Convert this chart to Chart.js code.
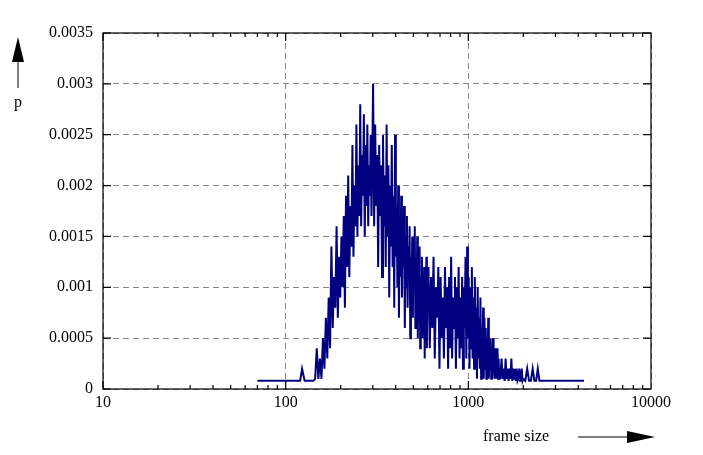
<!DOCTYPE html>
<html><head><meta charset="utf-8">
<script src="https://cdn.jsdelivr.net/npm/chart.js@4/dist/chart.umd.min.js"></script>
<style>html,body{margin:0;padding:0;background:#fff}#w{width:703px;height:455px}</style>
</head><body><div id="w"><canvas id="c"></canvas></div>
<script>
const frameSizes=[70,120,123,127,142,
145,148,151,154,157,160,163,166,169,172,175,178,181,184,187,190,193,196,199,202,205,208,211,214,217,220,223,226,229,232,235,238,241,244,247,250,253,256,259,262,265,268,271,274,277,280,283,286,289,292,295,298,
301,305,309,313,317,321,325,329,333,337,341,345,349,353,357,361,365,369,373,377,381,385,389,393,397,401,405,409,413,417,421,425,429,433,437,441,445,449,453,457,461,465,469,473,477,481,485,489,493,497,501,505,509,513,517,521,525,529,533,537,541,545,549,553,557,561,565,569,573,577,581,585,589,593,597,
605,615,625,635,645,655,665,675,685,695,705,715,725,735,745,755,765,775,785,795,805,815,825,835,845,855,865,875,885,895,905,915,925,935,945,955,965,975,985,995,1005,1015,1025,1035,1045,1055,1065,1075,1085,1095,1105,1115,1125,1135,1145,1155,1165,1175,1185,1195,1205,1215,1225,1235,1245,1255,1265,1275,1285,1295,1305,1315,1325,1335,1345,1355,1365,1375,1385,1395,1405,1415,1425,1435,1445,1455,1465,1475,1485,1495,
1520,1540,1560,1580,1600,1620,1640,1660,1680,1700,1720,1740,1760,1780,1800,1820,1840,1860,1880,1900,1920,1940,1960,1980,2000,2050,2100,2150,2200,2250,2300,2350,2400,2450,2500,4300];
const probability=[0.00008,0.00008,0.0002,0.00008,0.00008,
0.0001,0.0004,0.0001,0.0003,0.0001,0.0005,0.0002,0.0007,0.0003,0.0009,0.0004,0.0014,0.0006,0.0011,0.0008,0.0016,0.0007,0.0013,0.0009,0.0015,0.0010,0.0017,0.0008,0.0019,0.0012,0.0021,0.0011,0.0018,0.0014,0.0024,0.0013,0.0020,0.0016,0.0026,0.0015,0.0022,0.0017,0.0028,0.0016,0.0023,0.0019,0.0027,0.0015,0.0024,0.0018,0.0026,0.0016,0.0022,0.0019,0.0025,0.0017,0.0023,
0.0030,0.0016,0.0026,0.0018,0.0023,0.0012,0.0024,0.0017,0.0022,0.0011,0.0025,0.0016,0.0021,0.0012,0.0026,0.0015,0.0022,0.0009,0.0020,0.0014,0.0024,0.0012,0.0019,0.0008,0.0025,0.0013,0.0018,0.0010,0.0020,0.0007,0.0017,0.0011,0.0019,0.0009,0.0016,0.0012,0.0018,0.0006,0.0015,0.0010,0.0017,0.0008,0.0014,0.0011,0.0016,0.0005,0.0013,0.0009,0.0015,0.0007,0.0014,0.0010,0.0016,0.0006,0.0013,0.0008,0.0015,0.0005,0.0012,0.0009,0.0014,0.0004,0.0011,0.0007,0.0013,0.0005,0.0010,0.0008,0.0012,0.0003,0.0011,0.0006,0.0013,0.0004,0.0010,
0.0012,0.0004,0.0011,0.0006,0.0013,0.0003,0.0010,0.0007,0.0012,0.0002,0.0011,0.0005,0.0009,0.0003,0.0012,0.0006,0.0010,0.0002,0.0011,0.0004,0.0013,0.0003,0.0009,0.0006,0.0011,0.0002,0.0010,0.0005,0.0012,0.0003,0.0009,0.0004,0.0011,0.0002,0.0010,0.0006,0.0013,0.0003,0.0014,0.0005,0.0011,0.0002,0.0010,0.0004,0.0012,0.0003,0.0009,0.0002,0.0011,0.0004,0.0008,0.0001,0.0010,0.0003,0.0007,0.0002,0.0009,0.0001,0.0006,0.0003,0.0008,0.0001,0.0007,0.0002,0.0006,0.0001,0.0005,0.0002,0.0007,0.0001,0.0004,0.0002,0.0005,0.0001,0.0004,0.0001,0.0005,0.0002,0.0003,0.0001,0.0004,0.0001,0.0003,0.0001,0.0004,0.0001,0.0003,0.0001,0.0002,0.0001,
0.0003,0.0001,0.0002,0.00008,0.0003,0.0001,0.0002,0.00008,0.0002,0.0001,0.0003,0.00008,0.0002,0.0001,0.0002,0.00008,0.0002,0.00008,0.0001,0.0002,0.00008,0.0001,0.0002,0.00008,0.0001,0.00008,0.0002,0.00008,0.00008,0.0002,0.00008,0.00008,0.0002,0.00008,0.00008,0.00008];
const xTickLabels=[10,100,1000,10000];
const yTickLabels=['0','0.0005','0.001','0.0015','0.002','0.0025','0.003','0.0035'];
const FONT="'Liberation Serif', serif";
const frame={id:'frame',afterDraw(ch){const c=ch.ctx,a=ch.chartArea;c.save();c.strokeStyle='#000';c.lineWidth=1.2;
c.strokeRect(a.left,a.top,a.right-a.left,a.bottom-a.top);
const xs=ch.scales.x, ys=ch.scales.y;
for(let d=10;d<10000;d*=10){for(let k=1;k<10;k++){const px=xs.getPixelForValue(d*k);const L=k===1?8:4;
c.beginPath();c.moveTo(px,a.bottom);c.lineTo(px,a.bottom-L);c.moveTo(px,a.top);c.lineTo(px,a.top+L);c.stroke();}}
for(let i=0;i<yTickLabels.length;i++){const py=ys.getPixelForValue(i*0.0005);c.beginPath();c.moveTo(a.left,py);c.lineTo(a.left+8,py);c.moveTo(a.right,py);c.lineTo(a.right-8,py);c.stroke();}
c.fillStyle='#000';c.font="16px "+FONT;c.textBaseline='middle';c.textAlign='center';
c.fillText('p',18,103);
c.textAlign='left';c.fillText('frame size',483,437);
c.lineWidth=1;c.beginPath();c.moveTo(18,88);c.lineTo(18,60);c.moveTo(578,437);c.lineTo(630,437);c.stroke();
c.beginPath();c.moveTo(18,37);c.lineTo(12,62);c.lineTo(24,62);c.closePath();c.fill();
c.beginPath();c.moveTo(655,437);c.lineTo(627,431);c.lineTo(627,443);c.closePath();c.fill();
c.restore();}};
new Chart(document.getElementById('c'),{type:'line',
data:{datasets:[{data:frameSizes.map((x,i)=>({x,y:probability[i]})),borderColor:'#000080',borderWidth:2,pointRadius:0,tension:0,fill:false}]},
options:{responsive:true,maintainAspectRatio:false,animation:false,
layout:{padding:{left:0,right:52,top:33,bottom:46}},
plugins:{legend:{display:false},tooltip:{enabled:false}},
scales:{
x:{type:'logarithmic',min:10,max:10000,afterFit(s){s.height=20;},
afterBuildTicks(s){s.ticks=xTickLabels.map(v=>({value:v}));},
ticks:{color:'#000',font:{family:FONT,size:16},maxRotation:0,autoSkip:false,padding:4,callback:v=>String(v)},
grid:{color:'#888',drawTicks:false},border:{display:false,dash:[6,4]}},
y:{min:0,max:0.0035,afterFit(s){s.width=103;},
afterBuildTicks(s){s.ticks=yTickLabels.map((t,i)=>({value:i*0.0005}));},
ticks:{color:'#000',font:{family:FONT,size:16},padding:10,callback:(v,i)=>yTickLabels[i]},
grid:{color:'#888',drawTicks:false},border:{display:false,dash:[6,4]}}}},
plugins:[frame]});
</script></body></html>
